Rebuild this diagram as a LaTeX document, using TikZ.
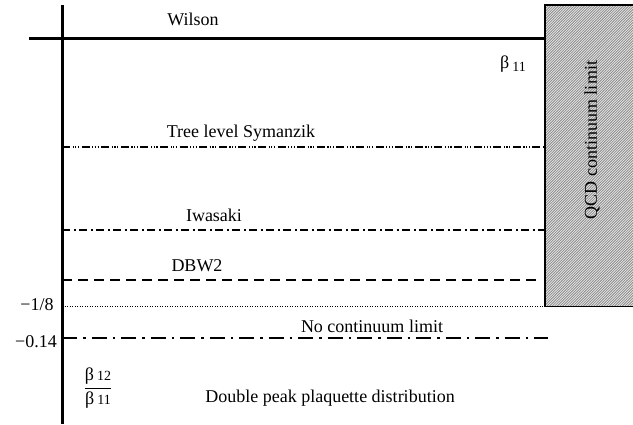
\documentclass[tikz,border=0pt]{standalone}
\usepackage{fontspec}
\setmainfont{Liberation Serif}
\usetikzlibrary{patterns}
\pgfdeclarepatternformonly{finehatch}{\pgfqpoint{-1pt}{-1pt}}{\pgfqpoint{4pt}{4pt}}{\pgfqpoint{2.6pt}{2.6pt}}{%
  \pgfsetlinewidth{0.6pt}
  \pgfpathmoveto{\pgfqpoint{0pt}{0pt}}
  \pgfpathlineto{\pgfqpoint{2.7pt}{2.7pt}}
  \pgfusepath{stroke}}
\begin{document}
\begin{tikzpicture}[x=1pt,y=-1pt,
  lbl/.style={font=\fontsize{18}{20}\selectfont, inner sep=1pt},
  level/.style={line width=2.8pt},
  symanzik/.style={level, dash pattern=on 8pt off 2.5pt on 1.2pt off 1.5pt on 1.2pt off 1.5pt on 1.2pt off 2.5pt},
  iwasaki/.style={level, dash pattern=on 8pt off 3.5pt on 2pt off 3.5pt},
  dbw/.style={level, dash pattern=on 10pt off 6pt},
  boundary/.style={line width=1pt, dash pattern=on 1pt off 1.5pt},
  nolimit/.style={level, dash pattern=on 15pt off 6pt on 2.5pt off 6pt}]
\useasboundingbox (0,0) rectangle (633,424);

% QCD continuum limit region
\fill[gray!22] (545,5) rectangle (640,306);
\fill[pattern=finehatch, pattern color=black!50] (545,5) rectangle (640,306);
\node[inner sep=0pt, minimum width=95pt, minimum height=301pt, anchor=north west] (box) at (545,5) {};
\draw[line width=1.4pt] (box.north east) -- (box.north west) -- (box.south west) -- (box.south east);
\node[lbl, rotate=90] (qcd) at (592,140) {QCD continuum limit};

% axis
\coordinate (axtop) at (62,5);
\coordinate (axbot) at (62,424);
\draw[line width=3pt] (axtop) -- (axbot);

% Wilson
\coordinate (w0) at (29,38);
\coordinate (w1) at (545,38);
\draw[line width=3pt] (w0) -- (w1);
\node[lbl] (wilson) at (193,19) {Wilson};
\node[lbl] (beta) at (513,64) {β\,\raisebox{-0.35ex}{\fontsize{14}{15}\selectfont 11}};

% Tree level Symanzik
\coordinate (s0) at (62,147);
\coordinate (s1) at (545,147);
\draw[symanzik] (s0) -- (s1);
\node[lbl] (sym) at (241,133) {Tree level Symanzik};

% Iwasaki
\coordinate (i0) at (62,230);
\coordinate (i1) at (545,230);
\draw[iwasaki] (i0) -- (i1);
\node[lbl] (iwa) at (214,215) {Iwasaki};

% DBW2
\coordinate (d0) at (62,280);
\coordinate (d1) at (540,280);
\draw[dbw] (d0) -- (d1);
\node[lbl] (dbw2) at (197,266) {DBW2};

% -1/8 boundary
\coordinate (b0) at (62,306);
\coordinate (b1) at (545,306);
\draw[boundary] (b0) -- (b1);
\node[lbl] (eighth) at (37,305) {−1/8};

% No continuum limit
\coordinate (n0) at (62,338);
\coordinate (n1) at (548,338);
\draw[nolimit] (n0) -- (n1);
\node[lbl] (nocl) at (372,326) {No continuum limit};
\node[lbl] (m014) at (36,342) {−0.14};

% bottom region
\node[lbl] (ratio) at (98,388) {$\displaystyle\frac{\mbox{β\,\fontsize{14}{15}\selectfont 12}}{\mbox{β\,\fontsize{14}{15}\selectfont 11}}$};
\node[lbl] (dpp) at (330,398) {Double peak plaquette distribution};
\end{tikzpicture}
\end{document}
